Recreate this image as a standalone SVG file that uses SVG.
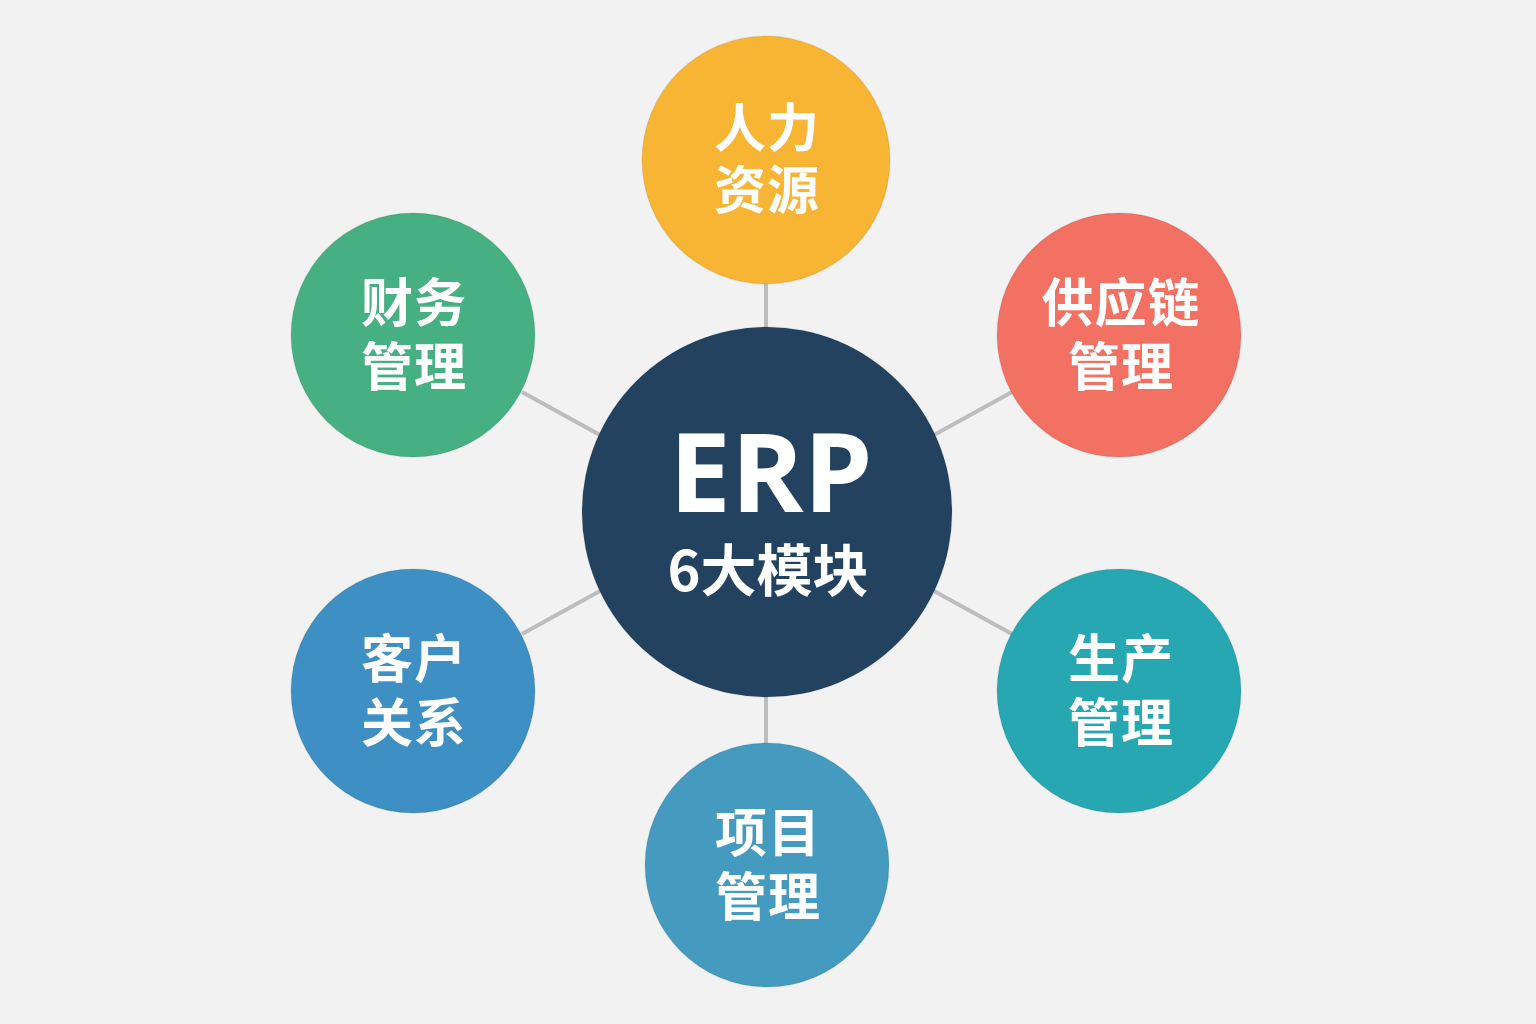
<svg xmlns="http://www.w3.org/2000/svg" width="1536" height="1024" viewBox="0 0 1536 1024">
<style>
.node text{font-family:"Noto Sans CJK SC","Noto Sans",sans-serif;font-weight:700;font-size:52px;fill:#ffffff;text-anchor:middle;letter-spacing:1px}
.conn line{stroke:#bdbdbd;stroke-width:4;stroke-linecap:butt}
.ring{stroke:rgba(0,0,0,0.06);stroke-width:1.5}
</style>
<rect width="1536" height="1024" fill="#f2f2f2"/>
<g id="connectors" class="conn">
<line x1="766" y1="284" x2="766" y2="328"/>
<line x1="766" y1="697" x2="766" y2="743"/>
<line x1="522" y1="392" x2="600" y2="435"/>
<line x1="934" y1="435" x2="1012" y2="392"/>
<line x1="522" y1="634" x2="600" y2="591"/>
<line x1="934" y1="591" x2="1012" y2="634"/>
</g>
<g id="center" class="node">
<circle cx="767" cy="512" r="185" fill="#22425f" class="ring"/>
<text x="771" y="512" style="font-family:'Open Sans','Noto Sans',sans-serif;font-size:110px;letter-spacing:0">ERP</text>
<text x="768" y="591" style="font-size:56px;letter-spacing:0">6大模块</text>
</g>
<g id="hr" class="node">
<circle cx="766" cy="160" r="124" fill="#f8b534" class="ring"/>
<text x="767" y="147">人力</text>
<text x="767" y="209">资源</text>
</g>
<g id="finance" class="node">
<circle cx="413" cy="335" r="122" fill="#47b083" class="ring"/>
<text x="414" y="322">财务</text>
<text x="414" y="386">管理</text>
</g>
<g id="supply" class="node">
<circle cx="1119" cy="335" r="122" fill="#f27163" class="ring"/>
<text x="1121" y="322">供应链</text>
<text x="1121" y="386">管理</text>
</g>
<g id="crm" class="node">
<circle cx="413" cy="691" r="122" fill="#3e8fc3" class="ring"/>
<text x="414" y="678">客户</text>
<text x="414" y="742">关系</text>
</g>
<g id="production" class="node">
<circle cx="1119" cy="691" r="122" fill="#26a7b1" class="ring"/>
<text x="1121" y="678">生产</text>
<text x="1121" y="742">管理</text>
</g>
<g id="project" class="node">
<circle cx="767" cy="865" r="122" fill="#449bbf" class="ring"/>
<text x="768" y="852">项目</text>
<text x="768" y="916">管理</text>
</g>
</svg>
